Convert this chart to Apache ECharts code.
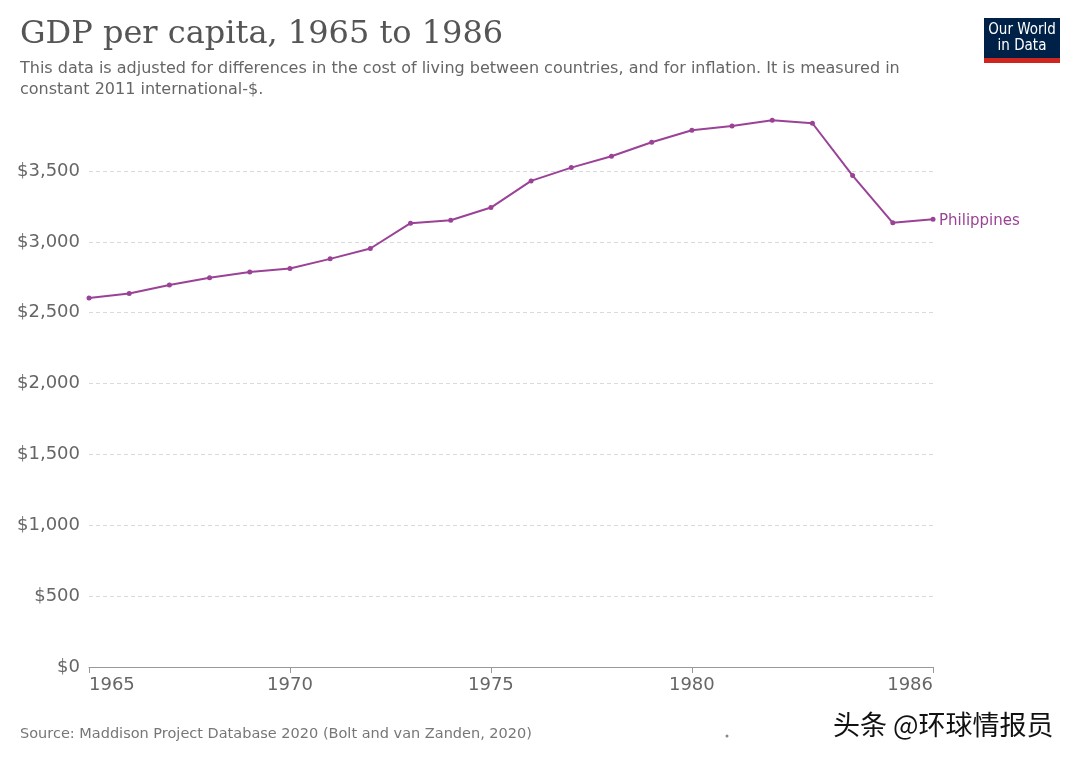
<!DOCTYPE html>
<html><head><meta charset="utf-8">
<script src="https://cdn.jsdelivr.net/npm/echarts@6/dist/echarts.min.js"></script>
<style>html,body{margin:0;padding:0;background:#fff}#c{width:1080px;height:763px}</style>
</head><body><div id="c"></div>
<script>
const years = ['1965','1966','1967','1968','1969','1970','1971','1972','1973','1974','1975','1976','1977','1978','1979','1980','1981','1982','1983','1984','1985','1986'];
const gdpPhilippines = [2603,2635,2695,2746,2788,2812,2880,2953,3132,3153,3242,3430,3524,3604,3703,3788,3818,3858,3837,3468,3134,3160];
const shownYears = ['1965','1970','1975','1980','1986'];
const seriesName = 'Philippines';
const titleText = 'GDP per capita, 1965 to 1986';
const subtitleText = 'This data is adjusted for differences in the cost of living between countries, and for inflation. It is measured in\nconstant 2011 international-$.';
const sourceText = 'Source: Maddison Project Database 2020 (Bolt and van Zanden, 2020)';

const sans = "'DejaVu Sans','Liberation Sans',Arial,sans-serif";
const cond = "'DejaVu Sans Condensed','Liberation Sans',Arial,sans-serif";
const serif = "'DejaVu Serif','Liberation Serif',serif";
const purple = '#9a4296';

const chart = echarts.init(document.getElementById('c'));
chart.setOption({
  animation: false,
  backgroundColor: '#fff',
  grid: {left: 89, right: 147, top: 171, bottom: 96, containLabel: false},
  xAxis: {
    type: 'category', data: years, boundaryGap: false,
    axisLine: {lineStyle: {color: '#999', width: 1}},
    axisTick: {show: true, length: 6, lineStyle: {color: '#999'}, interval: (i, v) => shownYears.includes(v)},
    axisLabel: {interval: (i, v) => shownYears.includes(v), color: '#666', fontSize: 18, fontFamily: sans, margin: 9,
      alignMinLabel: 'left', alignMaxLabel: 'right'},
    splitLine: {show: false}
  },
  yAxis: {
    type: 'value', min: 0, max: 3500, interval: 500,
    axisLine: {show: false}, axisTick: {show: false},
    axisLabel: {color: '#666', fontSize: 18, fontFamily: sans, margin: 9,
      formatter: v => '$' + v.toLocaleString('en-US')},
    splitLine: {lineStyle: {color: '#dadada', type: [4, 3], width: 1}}
  },
  series: [{
    name: seriesName, type: 'line', data: gdpPhilippines, clip: false,
    symbol: 'circle', symbolSize: 5, showSymbol: true,
    lineStyle: {color: purple, width: 2}, itemStyle: {color: purple},
    endLabel: {show: true, formatter: seriesName, color: purple, fontSize: 15, fontFamily: sans, distance: 6, offset: [0, 2]}
  }],
  graphic: [
    {type: 'text', left: 20, top: 19, style: {text: titleText, fill: '#555', font: '32px ' + serif}},
    {type: 'text', left: 20, top: 58, style: {text: subtitleText, fill: '#666', font: '16px ' + sans, lineHeight: 21}},
    {type: 'text', left: 20, top: 727, style: {text: sourceText, fill: '#777', font: '14.5px ' + sans}},
    {type: 'circle', shape: {cx: 727, cy: 736, r: 1.5}, style: {fill: '#888'}},
    {type: 'text', left: 832, top: 710, style: {text: '头条 @环球情报员', fill: '#111', font: '27px "Noto Sans CJK SC"', stroke: '#fff', lineWidth: 2}},
    {type: 'rect', shape: {x: 984, y: 18, width: 76, height: 45}, style: {fill: '#002147'}},
    {type: 'rect', shape: {x: 984, y: 58, width: 76, height: 5}, style: {fill: '#ce261e'}},
    {type: 'text', x: 1022, y: 22, style: {text: 'Our World\nin Data', fill: '#fff', font: '15px ' + cond, align: 'center', lineHeight: 16}}
  ]
});
</script></body></html>
